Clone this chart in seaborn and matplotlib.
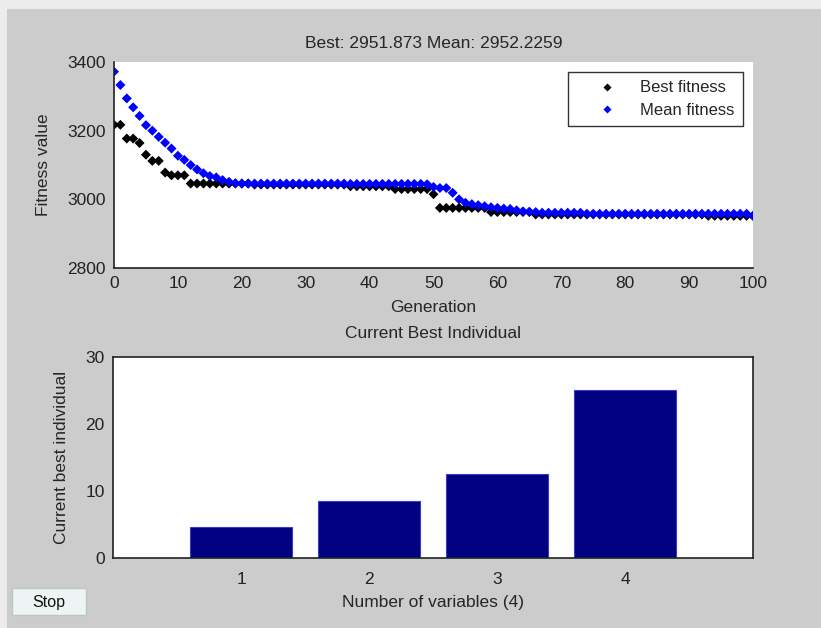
import numpy as np
import pandas as pd
import matplotlib
matplotlib.use("Agg")
import matplotlib.pyplot as plt
import seaborn as sns
from matplotlib.patches import Rectangle

# GA run: best and mean fitness per generation
best_fitness = [
    3217, 3217, 3177, 3177, 3164, 3130, 3112, 3112, 3078, 3070,
    3070, 3070, 3046, 3046, 3046, 3046, 3046, 3046, 3046, 3046,
    3046, 3046, 3043, 3043, 3043, 3043, 3043, 3043, 3043, 3043,
    3043, 3043, 3043, 3043, 3043, 3043, 3043, 3038, 3038, 3038,
    3038, 3038, 3038, 3038, 3030, 3030, 3030, 3030, 3030, 3030,
    3015, 2975, 2975, 2975, 2975, 2975, 2975, 2975, 2975, 2963,
    2963, 2963, 2963, 2963, 2963, 2963, 2956, 2956, 2956, 2956,
    2956, 2956, 2956, 2956, 2956, 2956, 2956, 2956, 2956, 2956,
    2956, 2956, 2956, 2956, 2956, 2956, 2956, 2956, 2956, 2956,
    2956, 2956, 2956, 2952, 2952, 2952, 2952, 2952, 2952, 2952,
    2951.873,
]
mean_fitness = [
    3372, 3333, 3294, 3268, 3243, 3216, 3200, 3182, 3165, 3148,
    3127, 3115, 3100, 3087, 3076, 3068, 3064, 3056, 3051, 3047,
    3046, 3046, 3046, 3046, 3046, 3046, 3046, 3046, 3046, 3046,
    3046, 3046, 3046, 3046, 3046, 3046, 3046, 3045, 3045, 3045,
    3045, 3045, 3045, 3045, 3045, 3045, 3045, 3045, 3045, 3044,
    3036, 3033, 3033, 3019, 3000, 2990, 2986, 2983, 2980, 2977,
    2975, 2973, 2972, 2968, 2965, 2964, 2963, 2961, 2961, 2961,
    2961, 2961, 2961, 2961, 2958, 2958, 2958, 2958, 2958, 2958,
    2958, 2958, 2958, 2958, 2958, 2958, 2958, 2958, 2958, 2958,
    2958, 2958, 2958, 2958, 2958, 2958, 2958, 2958, 2958, 2958,
    2952.2259,
]
generations = list(range(len(best_fitness)))

variables = [1, 2, 3, 4]
best_individual = [4.6, 8.5, 12.5, 25.1]

df = pd.DataFrame({"Generation": generations,
                   "Best fitness": best_fitness,
                   "Mean fitness": mean_fitness})
long_df = df.melt(id_vars="Generation", var_name="series", value_name="fitness")
bars = pd.DataFrame({"var": variables, "value": best_individual})

sns.set_style("white")
plt.rcParams["font.family"] = ["Liberation Sans", "DejaVu Sans"]
plt.rcParams["font.size"] = 12.5
plt.rcParams["xtick.direction"] = "in"
plt.rcParams["ytick.direction"] = "in"

bg = "#cccccc"
fig = plt.figure(figsize=(8.21, 6.28), dpi=100, facecolor=bg)

# light window border on top and left
fig.add_artist(Rectangle((0, 1 - 9 / 628), 1, 9 / 628, transform=fig.transFigure,
                         facecolor="#ececec", edgecolor="none"))
fig.add_artist(Rectangle((0, 0), 7 / 821, 1, transform=fig.transFigure,
                         facecolor="#ececec", edgecolor="none"))

# ---- top: fitness per generation
ax1 = fig.add_axes([114 / 821, 1 - 268 / 628, 639 / 821, 206 / 628])
sns.scatterplot(data=long_df, x="Generation", y="fitness", hue="series",
                palette={"Best fitness": "black", "Mean fitness": "blue"},
                marker="D", s=26, edgecolor="none", ax=ax1)
ax1.set_xlim(0, 100)
ax1.set_ylim(2800, 3400)
ax1.set_xticks(range(0, 101, 10))
ax1.set_yticks([2800, 3000, 3200, 3400])
ax1.set_xlabel("Generation", labelpad=6)
ax1.set_ylabel("Fitness value", labelpad=12)
ax1.set_title("Best: 2951.873 Mean: 2952.2259", fontsize=12.5, pad=10)
ax1.spines["top"].set_visible(False)
ax1.spines["right"].set_visible(False)
leg = ax1.legend(loc="upper right", bbox_to_anchor=(0.984, 0.951), borderaxespad=0,
                 frameon=True, fancybox=False, edgecolor="black", title=None,
                 handletextpad=0.2, borderpad=0.5, labelspacing=0.45,
                 handlelength=3.6, markerscale=0.75, fontsize=12)
leg.get_frame().set_linewidth(1.0)

# ---- bottom: current best individual
ax2 = fig.add_axes([113 / 821, 1 - 558 / 628, 640 / 821, 201 / 628])
sns.barplot(data=bars, x="var", y="value", order=[0, 1, 2, 3, 4, 5],
            color="#000080", saturation=1, width=0.8, ax=ax2)
for p in ax2.patches:
    p.set_edgecolor("#3b3bc8")
    p.set_linewidth(0.8)
ax2.set_xlim(0, 5)
ax2.set_xticks([1, 2, 3, 4])
ax2.set_xticklabels(["1", "2", "3", "4"])
ax2.set_ylim(0, 30)
ax2.set_yticks([0, 10, 20, 30])
ax2.set_xlabel("Number of variables (4)", labelpad=6)
ax2.set_ylabel("Current best individual", labelpad=12)
ax2.set_title("Current Best Individual", fontsize=12.5, pad=14)

for ax in (ax1, ax2):
    for s in ax.spines.values():
        s.set_linewidth(1.2)
        s.set_color("#222222")
    ax.tick_params(length=4, width=1, colors="#222222", labelcolor="#222222",
                   top=False, right=False, pad=6)
    ax.set_facecolor("white")
ax2.tick_params(axis="x", pad=10)

# Stop button
fig.add_artist(Rectangle((12 / 821, 1 - 615 / 628), 74 / 821, 27 / 628,
                         transform=fig.transFigure, facecolor="#eef3f3",
                         edgecolor="#b8c8c8", linewidth=1))
fig.text(49 / 821, 1 - 602 / 628, "Stop", ha="center", va="center", fontsize=11.5,
         color="#111111")

fig.savefig("out.png", dpi=100, facecolor=bg)
